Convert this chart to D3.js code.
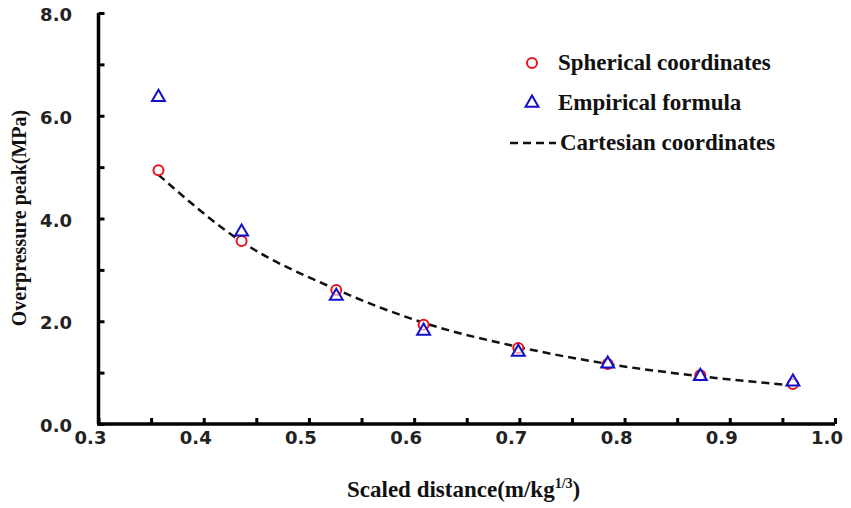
<!DOCTYPE html>
<html>
<head>
<meta charset="utf-8">
<script src="https://cdn.jsdelivr.net/npm/d3@7"></script>
<style>
  body { margin: 0; background: #fff; }
  .tick-label { font-family: "DejaVu Sans", sans-serif; font-weight: bold; font-size: 18px; fill: #222; }
  .title { font-family: "Liberation Serif", "Times New Roman", serif; font-weight: bold; font-size: 23px; fill: #111; }
</style>
</head>
<body>
<div id="chart"></div>
<script>
// data
var distance = [0.357, 0.436, 0.526, 0.609, 0.699, 0.784, 0.872, 0.960];
var spherical = [4.94, 3.56, 2.61, 1.93, 1.48, 1.17, 0.95, 0.78];
var empirical = [6.36, 3.74, 2.49, 1.81, 1.40, 1.17, 0.93, 0.82];
var cartesian = [4.85, 3.55, 2.62, 1.97, 1.50, 1.17, 0.93, 0.75];

var xTicks = [0.3, 0.4, 0.5, 0.6, 0.7, 0.8, 0.9, 1.0];
var yTicks = [0, 2, 4, 6, 8];

var width = 851, height = 508;

var x = d3.scaleLinear().domain([0.3, 1.0]).range([98.5, 835]);
var y = d3.scaleLinear().domain([0, 8]).range([424, 13]);

var svg = d3.select("#chart").append("svg")
    .attr("width", width)
    .attr("height", height);

// axes, ticks pointing inward
var xAxis = d3.axisBottom(x).tickValues(d3.range(0.3, 1.0001, 0.05)).tickSize(-6).tickFormat("");
var yAxis = d3.axisLeft(y).tickValues(d3.range(0, 8.0001, 1)).tickSize(-6).tickFormat("");

svg.append("g")
    .attr("transform", "translate(0," + y(0) + ")")
    .call(xAxis)
    .call(function (g) {
        g.select(".domain").attr("d", "M" + (x(0.3) - 1.5) + ",0H" + x(1.0)).attr("stroke", "#000").attr("stroke-width", 3.5);
        g.selectAll(".tick line").attr("stroke", "#000").attr("stroke-width", 3);
    });

svg.append("g")
    .attr("transform", "translate(" + x(0.3) + ",0)")
    .call(yAxis)
    .call(function (g) {
        g.select(".domain").attr("d", "M0," + y(8) + "V" + y(0)).attr("stroke", "#000").attr("stroke-width", 3.5);
        g.selectAll(".tick line").attr("stroke", "#000").attr("stroke-width", 3);
    });

// tick labels
svg.selectAll(".xlab").data(xTicks).enter().append("text")
    .attr("class", "tick-label")
    .attr("x", function (d) { return x(d) - 8; })
    .attr("y", 444)
    .attr("text-anchor", "middle")
    .text(function (d) { return d.toFixed(1); });

svg.selectAll(".ylab").data(yTicks).enter().append("text")
    .attr("class", "tick-label")
    .attr("x", 72)
    .attr("y", function (d) { return y(d) + 8; })
    .attr("text-anchor", "end")
    .text(function (d) { return d.toFixed(1); });

// axis titles
var xt = svg.append("text")
    .attr("class", "title")
    .attr("x", 347)
    .attr("y", 497);
xt.append("tspan").text("Scaled distance(m/kg");
xt.append("tspan").attr("dy", -9).style("font-size", "14px").text("1/3");
xt.append("tspan").attr("dy", 9).text(")");

svg.append("text")
    .attr("class", "title")
    .attr("transform", "translate(26,218) rotate(-90)")
    .attr("text-anchor", "middle")
    .style("font-size", "20px")
    .text("Overpressure peak(MPa)");

// fitted curve
var line = d3.line()
    .x(function (d, i) { return x(distance[i]); })
    .y(function (d) { return y(d); })
    .curve(d3.curveMonotoneX);

svg.append("path")
    .datum(cartesian)
    .attr("d", line)
    .attr("fill", "none")
    .attr("stroke", "#111")
    .attr("stroke-width", 2.5)
    .attr("stroke-dasharray", "8,5");

// markers
var tri = d3.symbol().type(d3.symbolTriangle).size(72);

svg.selectAll(".sph").data(spherical).enter().append("circle")
    .attr("cx", function (d, i) { return x(distance[i]); })
    .attr("cy", function (d) { return y(d); })
    .attr("r", 5)
    .attr("fill", "#fff")
    .attr("stroke", "#e8141c")
    .attr("stroke-width", 2);

svg.selectAll(".emp").data(empirical).enter().append("path")
    .attr("d", tri)
    .attr("transform", function (d, i) { return "translate(" + x(distance[i]) + "," + y(d) + ")"; })
    .attr("fill", "#fff")
    .attr("fill-opacity", 0.6)
    .attr("stroke", "#1010c8")
    .attr("stroke-width", 2);

// legend
var lg = svg.append("g");
lg.append("circle").attr("cx", 532).attr("cy", 63).attr("r", 5)
    .attr("fill", "#fff").attr("stroke", "#e8141c").attr("stroke-width", 2);
lg.append("text").attr("class", "title").attr("x", 558).attr("y", 70).text("Spherical coordinates");

lg.append("path").attr("d", tri).attr("transform", "translate(532,103)")
    .attr("fill", "#fff").attr("stroke", "#1010c8").attr("stroke-width", 2);
lg.append("text").attr("class", "title").attr("x", 558).attr("y", 110).text("Empirical formula");

lg.append("line").attr("x1", 510).attr("x2", 556).attr("y1", 143).attr("y2", 143)
    .attr("stroke", "#111").attr("stroke-width", 2.5).attr("stroke-dasharray", "8,5");
lg.append("text").attr("class", "title").attr("x", 560).attr("y", 150).text("Cartesian coordinates");
</script>
</body>
</html>
